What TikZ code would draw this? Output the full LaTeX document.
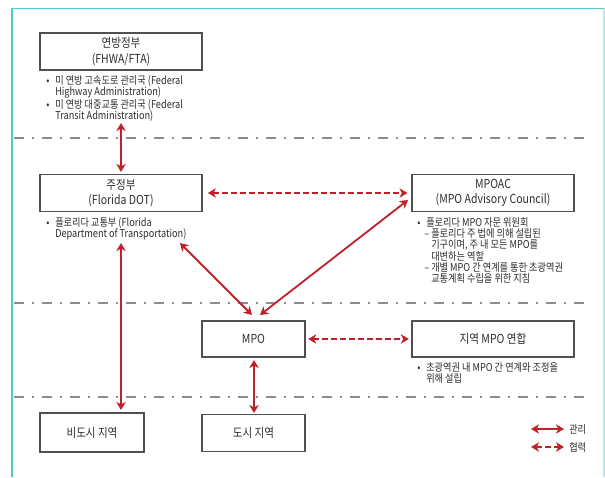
\documentclass[tikz,border=0pt]{standalone}
\usepackage{fontspec}
\setmainfont[FakeStretch=0.85]{Noto Sans CJK KR}
\usetikzlibrary{arrows.meta}
\definecolor{arrred}{RGB}{192,32,40}
\definecolor{boxgray}{RGB}{80,80,80}
\definecolor{txtgray}{RGB}{45,45,45}
\definecolor{sepgray}{RGB}{140,140,140}
\definecolor{frameC}{RGB}{80,200,205}
\definecolor{frameL}{RGB}{185,232,235}
\newcommand\bul{\makebox[6.75pt][l]{•}}
\newcommand\ind{\hspace*{6.75pt}}
\newcommand\subd{\hspace*{5.25pt}\makebox[5.25pt][l]{–}}
\newcommand\subi{\hspace*{10.5pt}}
\begin{document}
\begin{tikzpicture}[x=0.75pt,y=-0.75pt,
  box/.style={draw=boxgray,line width=0.8pt,fill=white,inner sep=0pt,align=center,
    font=\fontsize{9.3}{11.5}\selectfont,text=txtgray},
  note/.style={inner sep=0pt,anchor=north west,align=left,
    font=\fontsize{8.1}{8.25}\selectfont,text=txtgray},
  mgmt/.style={draw=arrred,line width=1.35pt,
    arrows={Stealth[length=6pt,width=7pt,inset=1.8pt]-Stealth[length=6pt,width=7pt,inset=1.8pt]}},
  coop/.style={mgmt,dash pattern=on 4.5pt off 2.25pt},
  sep/.style={draw=sepgray,line width=1.6pt,dash pattern=on 7.5pt off 6pt on 1.5pt off 6pt}]
\fill[white] (0,0) rectangle (605,477);
\useasboundingbox (0,0) rectangle (605,477);
% frame
\draw[frameL,line width=1.2pt] (604,8.5) -- (604,477);
\draw[frameC,line width=1.3pt] (12,477) -- (12,8.5) -- (604,8.5);
% separators
\coordinate (s1l) at (14,138); \coordinate (s1r) at (592,138);
\coordinate (s2l) at (14,303); \coordinate (s2r) at (592,303);
\coordinate (s3l) at (14,397); \coordinate (s3r) at (592,397);
\draw[sep] (s1l) -- (s1r);
\draw[sep] (s2l) -- (s2r);
\draw[sep] (s3l) -- (s3r);
% boxes
\node[box,minimum width=121.5pt,minimum height=27.75pt] (fed) at (121,51.5) {연방정부\\(FHWA/FTA)};
\node[box,minimum width=121.5pt,minimum height=27.75pt] (state) at (121,193) {주정부\\(Florida DOT)};
\node[box,minimum width=121.5pt,minimum height=27.75pt] (mpoac) at (493,193) {MPOAC\\(MPO Advisory Council)};
\node[box,minimum width=77.25pt,minimum height=27pt] (mpo) at (253.5,339) {MPO};
\node[box,minimum width=121.5pt,minimum height=27pt] (reg) at (493,339) {지역 MPO 연합};
\node[box,minimum width=78pt,minimum height=29.25pt] (rural) at (92,432.5) {비도시 지역};
\node[box,minimum width=77.25pt,minimum height=28pt] (urban) at (253.5,433) {도시 지역};
% notes
\node[note] (fedtxt) at (46,75) {\bul 미 연방 고속도로 관리국 (Federal\\\ind Highway Administration)\\\bul 미 연방 대중교통 관리국 (Federal\\\ind Transit Administration)};
\node[note] (statetxt) at (46,217) {\bul 플로리다 교통부 (Florida\\\ind Department of Transportation)};
\node[note] (mpoactxt) at (417,217) {\bul 플로리다 MPO 자문 위원회\\\subd 플로리다 주 법에 의해 설립된\\\subi 기구이며, 주 내 모든 MPO를\\\subi 대변하는 역할\\\subd 개별 MPO 간 연계를 통한 초광역권\\\subi 교통계획 수립을 위한 지침};
\node[note] (regtxt) at (417,362) {\bul 초광역권 내 MPO 간 연계와 조정을\\\ind 위해 설립};
% connectors
\coordinate (a1) at (121,123);
\coordinate (a1e) at (121,172);
\draw[mgmt] (a1) -- (a1e);
\draw[coop] ([xshift=4pt]state.east) -- ([xshift=-3pt]mpoac.west);
\coordinate (b1) at (180,243);
\coordinate (b2) at (252,315);
\draw[mgmt] (b1) -- (b2);
\coordinate (c1) at (260,315);
\coordinate (c2) at (408,200);
\draw[mgmt] (c1) -- (c2);
\coordinate (d1) at (121,243);
\coordinate (d2) at (121,410);
\draw[mgmt] (d1) -- (d2);
\coordinate (e1) at (254,360);
\coordinate (e2) at (254,413);
\draw[mgmt] (e1) -- (e2);
\draw[coop] ([xshift=2pt]mpo.east) -- ([xshift=-2pt]reg.west);
% legend
\node[note,anchor=west] (leg1) at (569,429) {관리};
\node[note,anchor=west] (leg2) at (569,447) {협력};
\coordinate (l1) at (531,429); \coordinate (l1e) at (564,429);
\coordinate (l2) at (531,447); \coordinate (l2e) at (564,447);
\draw[mgmt] (l1) -- (l1e);
\draw[coop] (l2) -- (l2e);
\end{tikzpicture}
\end{document}
